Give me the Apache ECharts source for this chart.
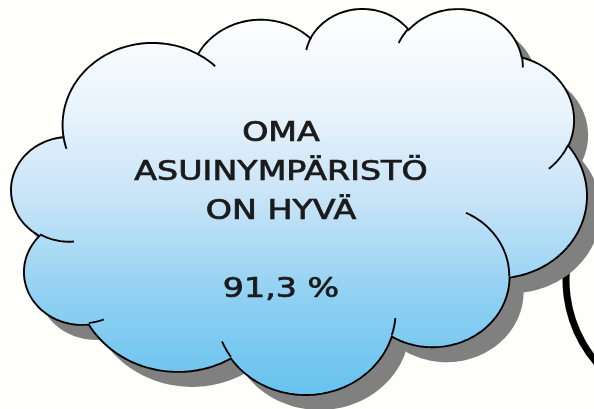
<!DOCTYPE html>
<html>
<head>
<meta charset="utf-8">
<script src="https://cdn.jsdelivr.net/npm/echarts@6/dist/echarts.min.js"></script>
<style>
html,body{margin:0;padding:0;background:#fefefa;}
#chart{width:594px;height:409px;}
</style>
</head>
<body>
<div id="chart"></div>
<script>
// ---- data ----
const labelLines = ['OMA', 'ASUINYMPÄRISTÖ', 'ON HYVÄ'];
const shareValue = 91.3;
const valueUnit = '%';

// ---- cloud geometry (DrawingML "cloud" preset, 43200 units) ----
const cloudStart = [3900, 14370];
const cloudArcs = [
  [6753, 9190, -11429249, 7426832],
  [5333, 7267, -8646143, 5396714],
  [4365, 5945, -8748475, 5983381],
  [4857, 6595, -7859164, 7034504],
  [5333, 7273, -4722533, 6541615],
  [6775, 9220, -2776035, 7816140],
  [5785, 7867, 37501, 6842000],
  [6752, 9215, 1347096, 6910353],
  [7720, 10543, 3974558, 4542661],
  [4360, 5918, -16496525, 8804134],
  [4345, 5945, -14809710, 9151131]
];
const cloudTails = [
  [4693, 26177, 4345, 5945, 5204520, 1585770],
  [6928, 34899, 4360, 5918, 4416628, 686848],
  [16478, 39090, 6752, 9215, 8257449, 844866],
  [28827, 34751, 6752, 9215, 387196, 959901],
  [34129, 22954, 5785, 7867, -4217541, 4255042],
  [41798, 15354, 5333, 7273, 1819082, 1665090],
  [38324, 5426, 4857, 6595, -824660, 891534],
  [29078, 3952, 4857, 6595, -8950887, 1091722],
  [22141, 4720, 4365, 5945, -9809656, 1061181],
  [14000, 5192, 6753, 9190, -4002417, 739161],
  [4127, 15789, 6753, 9190, 9459261, 711490]
];

function arcPts(cur, wR, hR, stAng, swAng) {
  const st = stAng / 60000 * Math.PI / 180, sw = swAng / 60000 * Math.PI / 180;
  const par = a => Math.atan2(wR * Math.sin(a), hR * Math.cos(a));
  const t0 = par(st);
  const cx = cur[0] - wR * Math.cos(t0), cy = cur[1] - hR * Math.sin(t0);
  const n = Math.max(8, Math.ceil(Math.abs(sw) * 40));
  const pts = [];
  for (let i = 0; i <= n; i++) {
    const t = par(st + sw * i / n);
    pts.push([cx + wR * Math.cos(t), cy + hR * Math.sin(t)]);
  }
  return pts;
}

let cur = cloudStart.slice();
let outline = [cur.slice()];
cloudArcs.forEach(a => {
  const p = arcPts(cur, a[0], a[1], a[2], a[3]);
  outline = outline.concat(p.slice(1));
  cur = p[p.length - 1];
});
const tails = cloudTails.map(t => arcPts([t[0], t[1]], t[2], t[3], t[4], t[5]));

let minX = Infinity, maxX = -Infinity, minY = Infinity, maxY = -Infinity;
outline.forEach(p => {
  minX = Math.min(minX, p[0]); maxX = Math.max(maxX, p[0]);
  minY = Math.min(minY, p[1]); maxY = Math.max(maxY, p[1]);
});
const box = {l: 11, r: 587, t: 9, b: 395};
const tf = p => [box.l + (p[0] - minX) / (maxX - minX) * (box.r - box.l),
                 box.t + (p[1] - minY) / (maxY - minY) * (box.b - box.t)];
const cloudPts = outline.map(tf);
const shadowPts = cloudPts.map(p => [p[0] + 14, p[1] + 15]);
const tailPts = tails.map(t => t.map(tf));

const fmt = v => v.toFixed(1).replace('.', ',') + ' ' + valueUnit;
const textBlock = labelLines.concat(['', fmt(shareValue)]).join('\n');

const chart = echarts.init(document.getElementById('chart'), null, {renderer: 'canvas'});
const elements = [
  {
    type: 'arc', z: 1,
    shape: {cx: 693, cy: 280, r: 127, startAngle: 130 * Math.PI / 180, endAngle: 215 * Math.PI / 180, clockwise: true},
    style: {stroke: '#000000', lineWidth: 7, fill: null}
  },
  {
    type: 'polygon', z: 2,
    shape: {points: shadowPts},
    style: {fill: '#808080', stroke: null}
  },
  {
    type: 'polygon', z: 3,
    shape: {points: cloudPts},
    style: {
      fill: new echarts.graphic.LinearGradient(0, 0, 0, 1, [
        {offset: 0, color: '#ffffff'},
        {offset: 0.25, color: '#eaf4fc'},
        {offset: 0.5, color: '#c6e3f7'},
        {offset: 0.75, color: '#8fd0f2'},
        {offset: 1, color: '#66c2ee'}
      ]),
      stroke: '#000000', lineWidth: 1.9
    }
  }
];
tailPts.forEach(t => elements.push({
  type: 'polyline', z: 4,
  shape: {points: t},
  style: {stroke: '#000000', lineWidth: 1.9, fill: null}
}));
elements.push({
  type: 'text', z: 5,
  x: 281, y: 212, scaleX: 1.28, scaleY: 1,
  style: {
    text: textBlock,
    font: '26px "DejaVu Sans"',
    fill: '#1a1a1a',
    stroke: '#1a1a1a', lineWidth: 0.7,
    textAlign: 'center', align: 'center',
    textVerticalAlign: 'middle', verticalAlign: 'middle',
    lineHeight: 39
  }
});

chart.setOption({
  backgroundColor: '#fefefa',
  animation: false,
  graphic: {elements: elements}
});
</script>
</body>
</html>
